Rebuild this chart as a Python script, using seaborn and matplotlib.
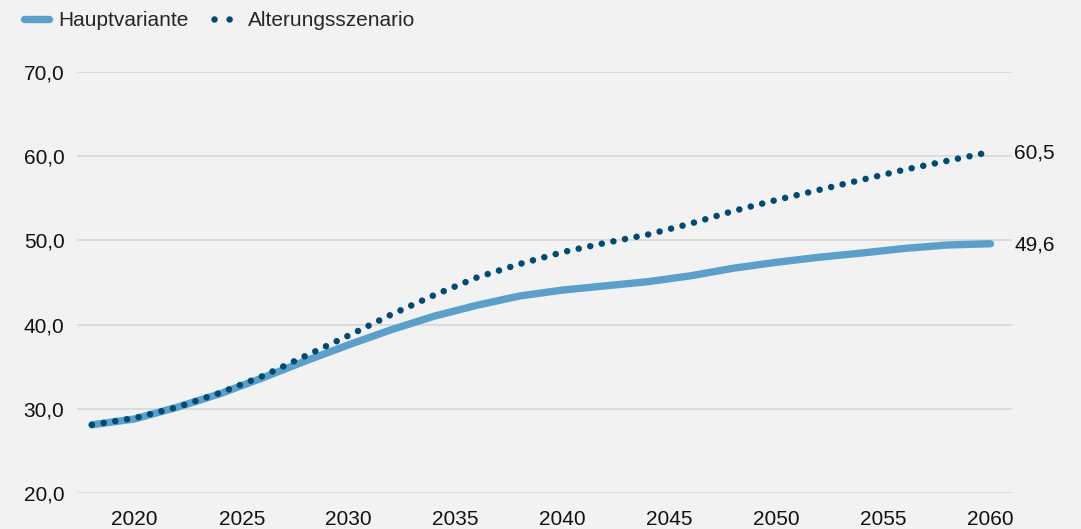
import numpy as np
import pandas as pd
import matplotlib
matplotlib.use("Agg")
import matplotlib.pyplot as plt
import seaborn as sns
from matplotlib.lines import Line2D
from matplotlib.ticker import FuncFormatter

# ── Data ──────────────────────────────────────────────────────────────────────
years = [2018, 2020, 2022, 2024, 2026, 2028, 2030, 2032, 2034, 2036, 2038,
         2040, 2042, 2044, 2046, 2048, 2050, 2052, 2054, 2056, 2058, 2060]
hauptvariante = [28.1, 28.8, 30.2, 31.8, 33.7, 35.7, 37.6, 39.4, 41.0, 42.3, 43.4,
                 44.1, 44.6, 45.1, 45.8, 46.7, 47.4, 48.0, 48.5, 49.05, 49.45, 49.6]
alterung = [28.1, 28.9, 30.2, 31.9, 33.9, 36.3, 38.7, 41.2, 43.5, 45.6, 47.2,
            48.6, 49.7, 50.7, 52.0, 53.5, 54.8, 56.0, 57.2, 58.4, 59.45, 60.5]
series_names = ["Hauptvariante", "Alterungsszenario"]
end_labels = ["49,6", "60,5"]
x_ticks = [2020, 2025, 2030, 2035, 2040, 2045, 2050, 2055, 2060]
y_ticks = [20, 30, 40, 50, 60, 70]

df = pd.DataFrame({"Jahr": years, "Hauptvariante": hauptvariante,
                   "Alterungsszenario": alterung})

# ── Style ─────────────────────────────────────────────────────────────────────
BG = "#f2f2f2"
LIGHT = "#5ba0ca"
DARK = "#004b73"
DOTS = (0, (0.01, 1.8))

sns.set_style("white")
plt.rcParams["font.family"] = ["Liberation Sans", "DejaVu Sans"]

fig = plt.figure(figsize=(10.81, 5.29), dpi=100, facecolor=BG)
ax = fig.add_axes([0.0712, 0.068, 0.8648, 0.796])
ax.set_facecolor(BG)

sns.lineplot(data=df, x="Jahr", y="Hauptvariante", ax=ax, color=LIGHT,
             linewidth=5.3, solid_capstyle="round", solid_joinstyle="round")
sns.lineplot(data=df, x="Jahr", y="Alterungsszenario", ax=ax, color=DARK,
             linewidth=4.7, linestyle=DOTS, dash_capstyle="round")

# end value labels
for col, lab in zip(series_names, end_labels):
    ax.annotate(lab, xy=(df["Jahr"].iloc[-1], df[col].iloc[-1]),
                xytext=(17, -1), textcoords="offset points",
                va="center", ha="left", fontsize=15, color="#111111")

ax.set_xlim(2017.3, 2061.0)
ax.set_ylim(20, 70)
ax.set_xticks(x_ticks)
ax.set_yticks(y_ticks)
ax.yaxis.set_major_formatter(FuncFormatter(lambda v, p: f"{v:.1f}".replace(".", ",")))
ax.tick_params(axis="both", length=0, labelsize=15, colors="#111111")
ax.tick_params(axis="y", pad=9)
ax.tick_params(axis="x", pad=12)
ax.grid(axis="y", color="#d9d9d9", linewidth=1.3)
ax.set_axisbelow(True)
for s in ax.spines.values():
    s.set_visible(False)
ax.set_xlabel("")
ax.set_ylabel("")

handles = [
    Line2D([], [], color=LIGHT, linewidth=5.3, solid_capstyle="round"),
    Line2D([], [], color=DARK, linewidth=4.7, linestyle=(0, (0.01, 2.3)),
           dash_capstyle="round"),
]
fig.legend(handles, series_names, loc="upper left", bbox_to_anchor=(0.005, 1.015),
           ncol=2, frameon=False, fontsize=15, handlelength=1.2,
           handletextpad=0.45, columnspacing=1.2)

fig.savefig("out.png", dpi=100, facecolor=BG)
